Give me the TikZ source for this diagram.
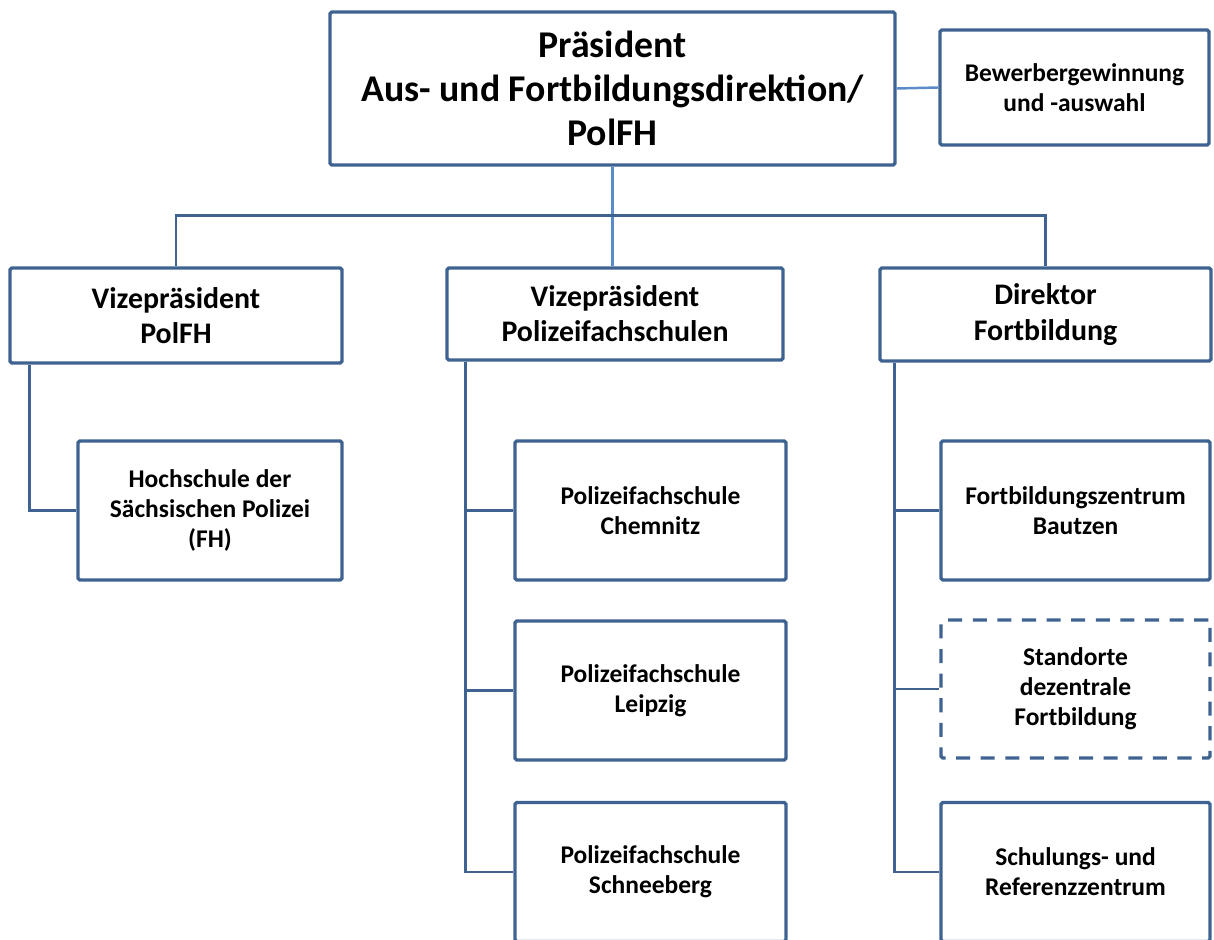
\documentclass[tikz,border=0pt]{standalone}
\usepackage{fontspec}
\setmainfont{Carlito}
\usepackage{tikz}
\definecolor{boxblue}{HTML}{3F6391}
\definecolor{lightblue}{HTML}{5B8BC9}
\tikzset{
  orgbox/.style={draw=boxblue, line width=1.9pt, fill=white, align=center, inner sep=2pt, rounded corners=1pt, font=\bfseries},
  conn/.style={draw=boxblue, line width=1.4pt},
  lightconn/.style={draw=lightblue, line width=1.4pt},
  bigtext/.style={font=\bfseries\fontsize{21.5}{25}\selectfont},
  midtext/.style={font=\bfseries\fontsize{17}{20}\selectfont},
  smalltext/.style={font=\bfseries\fontsize{14.5}{17}\selectfont}
}
\begin{document}
\begin{tikzpicture}
% Define the frame
\clip (0,0) rectangle (24.28,-18.8);
\fill[white] (0,0) rectangle (24.28,-18.8);
% Top level
\node[orgbox, bigtext, minimum width=11.3cm, minimum height=3.06cm] (praes) at (12.25,-1.77) {Präsident\\Aus- und Fortbildungsdirektion/\\PolFH};
\node[orgbox, smalltext, minimum width=5.38cm, minimum height=2.3cm] (bewerb) at (21.49,-1.75) {Bewerbergewinnung\\und -auswahl};
% Second level
\node[orgbox, midtext, minimum width=6.64cm, minimum height=1.9cm] (vpfh) at (3.52,-6.31) {Vizepräsident\\PolFH};
\node[orgbox, midtext, minimum width=6.72cm, minimum height=1.84cm] (vpfs) at (12.3,-6.28) {Vizepräsident\\Polizeifachschulen};
\node[orgbox, midtext, minimum width=6.62cm, minimum height=1.86cm] (dirfb) at (20.91,-6.29) {Direktor\\Fortbildung};
% Third level
\node[orgbox, smalltext, minimum width=5.28cm, minimum height=2.78cm] (hsp) at (4.2,-10.21) {Hochschule der\\Sächsischen Polizei\\(FH)};
\node[orgbox, smalltext, minimum width=5.42cm, minimum height=2.78cm] (pfsc) at (13.01,-10.21) {Polizeifachschule\\Chemnitz};
\node[orgbox, smalltext, minimum width=5.42cm, minimum height=2.78cm] (pfsl) at (13.01,-13.81) {Polizeifachschule\\Leipzig};
\node[orgbox, smalltext, minimum width=5.42cm, minimum height=2.78cm] (pfss) at (13.01,-17.44) {Polizeifachschule\\Schneeberg};
\node[orgbox, smalltext, minimum width=5.38cm, minimum height=2.78cm] (fzb) at (21.51,-10.21) {Fortbildungszentrum\\Bautzen};
\node[orgbox, smalltext, dash pattern=on 8pt off 6pt, minimum width=5.38cm, minimum height=2.76cm] (dezfb) at (21.51,-13.78) {Standorte\\dezentrale\\Fortbildung};
\node[orgbox, smalltext, minimum width=5.38cm, minimum height=2.78cm] (srz) at (21.51,-17.44) {Schulungs- und\\Referenzzentrum};
% Connectors
\draw[lightconn] (praes.east) -- (bewerb.west);
\draw[lightconn] (praes.south) -- (praes.south |- vpfs.north);
\draw[conn] (vpfh.north) -- ++(0,1.02) -| (dirfb.north);
\draw[conn] ([xshift=0.42cm]vpfh.south west) |- (hsp.west);
\foreach \n in {pfsc,pfsl,pfss} \draw[conn] ([xshift=0.4cm]vpfs.south west) |- (\n.west);
\foreach \n in {fzb,dezfb,srz} \draw[conn] ([xshift=0.32cm]dirfb.south west) |- (\n.west);
\end{tikzpicture}
\end{document}
